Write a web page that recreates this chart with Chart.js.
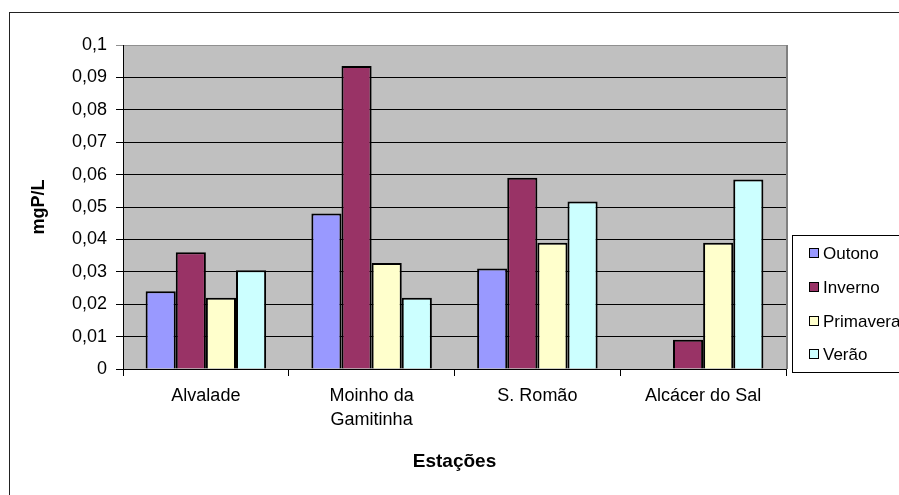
<!DOCTYPE html>
<html>
<head>
<meta charset="utf-8">
<script src="https://cdn.jsdelivr.net/npm/chart.js@4/dist/chart.umd.min.js"></script>
<style>
  html, body { margin: 0; padding: 0; background: #fff; }
  canvas { display: block; }
</style>
</head>
<body>
<canvas id="chart" width="899" height="495"></canvas>
<script>
// stations along the river and seasonal phosphorus concentration (mgP/L)
const estacoes = ['Alvalade', ['Moinho da', 'Gamitinha'], 'S. Romão', 'Alcácer do Sal'];
const outono    = [0.024, 0.048, 0.031, null];
const inverno   = [0.036, 0.0935, 0.059, 0.009];
const primavera = [0.022, 0.0327, 0.039, 0.039];
const verao     = [0.0305, 0.022, 0.0517, 0.0585];
const seriesNames = ['Outono', 'Inverno', 'Primavera', 'Verão'];
const seriesColors = ['#9999FF', '#993366', '#FFFFCC', '#CCFFFF'];

const FONT = "'Liberation Sans', Arial, sans-serif";

// comma decimals, no trailing zeros: 0.1 -> "0,1"
const fmt = v => String(Number(v.toFixed(3))).replace('.', ',');

const plotFrame = {
  id: 'plotFrame',
  beforeDraw(chart){
    const {ctx, chartArea: a} = chart;
    ctx.save();
    // outer chart border
    ctx.strokeStyle = '#222';
    ctx.lineWidth = 1;
    ctx.strokeRect(9.5, 12.5, 1000, 1000);
    // grey plot background
    ctx.fillStyle = '#C0C0C0';
    ctx.fillRect(a.left, a.top, a.right - a.left, a.bottom - a.top);
    ctx.restore();
  },
  afterDraw(chart){
    const {ctx, chartArea: a} = chart;
    ctx.save();
    // plot area right edge
    ctx.strokeStyle = '#808080';
    ctx.lineWidth = 2;
    ctx.beginPath();
    ctx.moveTo(a.right + 1, a.top);
    ctx.lineTo(a.right + 1, a.bottom);
    ctx.stroke();

    // legend box
    const lx = 792.5, ly = 235.5;
    ctx.strokeStyle = '#000';
    ctx.lineWidth = 1;
    ctx.fillStyle = '#fff';
    ctx.fillRect(lx, ly, 120, 137);
    ctx.strokeRect(lx, ly, 120, 137);
    ctx.font = '17px ' + FONT;
    ctx.textBaseline = 'middle';
    chart.data.datasets.forEach((ds, i) => {
      const y = Math.round(253 + i * 33.8);
      ctx.fillStyle = ds.backgroundColor;
      ctx.fillRect(809.5, y - 4.5, 9, 9);
      ctx.strokeRect(809.5, y - 4.5, 9, 9);
      ctx.fillStyle = '#000';
      ctx.fillText(ds.label, 823, y + 1);
    });
    ctx.restore();
  }
};

const data = {
  labels: estacoes,
  datasets: [outono, inverno, primavera, verao].map((vals, i) => ({
    label: seriesNames[i],
    data: vals,
    backgroundColor: seriesColors[i],
    borderColor: '#000',
    borderWidth: 2,
    categoryPercentage: 0.727,
    barPercentage: 1.0
  }))
};

new Chart(document.getElementById('chart'), {
  type: 'bar',
  data: data,
  plugins: [plotFrame],
  options: {
    responsive: false,
    devicePixelRatio: 1,
    animation: false,
    layout: { padding: { top: 45, right: 113, bottom: 0, left: 0 } },
    plugins: {
      legend: { display: false },
      tooltip: { enabled: false }
    },
    scales: {
      x: {
        afterFit: s => { s.height = 126; },
        grid: { drawOnChartArea: false, drawTicks: true, tickLength: 7, color: '#000' },
        border: { color: '#000', width: 1 },
        ticks: {
          color: '#000', padding: 8, maxRotation: 0, autoSkip: false,
          font: { family: FONT, size: 18, lineHeight: 1.35 }
        },
        title: {
          display: true, text: 'Estações', color: '#000',
          font: { family: FONT, size: 19, weight: 'bold' },
          padding: { top: 0, bottom: 22 }
        }
      },
      y: {
        min: 0, max: 0.1,
        afterFit: s => { s.width = 123; },
        grid: {
          color: c => (c.tick && c.tick.value > 0.0995) ? '#909090' : '#000',
          tickLength: 7
        },
        border: { color: '#000', width: 1 },
        ticks: {
          stepSize: 0.01, color: '#000', padding: 9,
          font: { family: FONT, size: 18 },
          callback: v => fmt(v)
        },
        title: {
          display: true, text: 'mgP/L', color: '#000',
          font: { family: FONT, size: 18, weight: 'bold' },
          padding: { top: 28, bottom: 0 }
        }
      }
    }
  }
});
</script>
</body>
</html>
